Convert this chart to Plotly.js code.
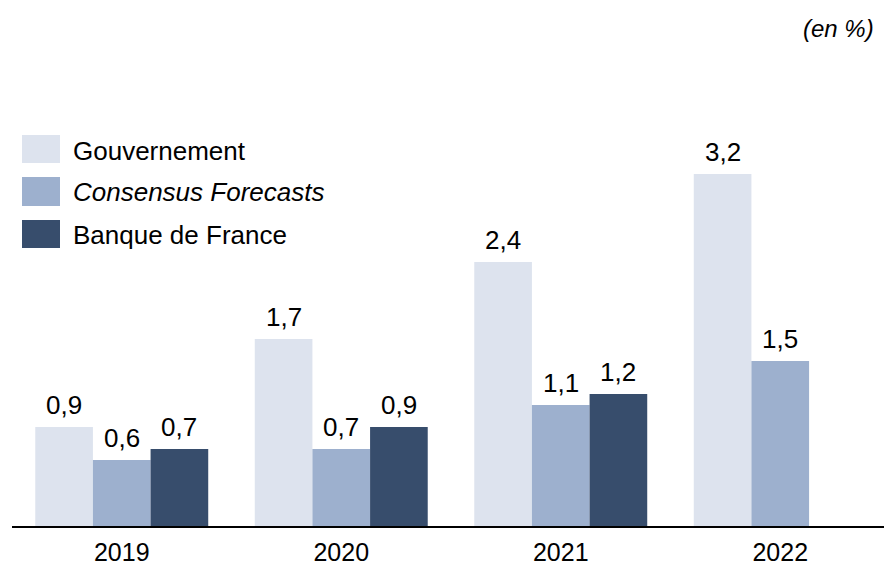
<!DOCTYPE html>
<html>
<head>
<meta charset="utf-8">
<script src="https://cdn.plot.ly/plotly-3.0.1.min.js"></script>
<style>html,body{margin:0;padding:0;background:#fff;}#chart{width:884px;height:565px;}</style>
</head>
<body>
<div id="chart"></div>
<script>
const years = ['2019', '2020', '2021', '2022'];
const seriesNames = ['Gouvernement', 'Consensus Forecasts', 'Banque de France'];
const gouvernement = [0.9, 1.7, 2.4, 3.2];
const consensus = [0.6, 0.7, 1.1, 1.5];
const banqueDeFrance = [0.7, 0.9, 1.2, null];
const colors = ['#dde3ee', '#9db0ce', '#374d6c'];
const unitNote = '(en %)';

const W = 884, H = 565;
const mL = 12, mR = 0, mT = 86, mB = 39;
const pw = W - mL - mR, ph = H - mT - mB;
const catPx = 219.5;
const bargap = 0.212;
const FONT = 'Liberation Sans, Arial, sans-serif';

const allSeries = [gouvernement, consensus, banqueDeFrance];
const traces = allSeries.map((vals, k) => ({
  type: 'bar', x: years, y: vals, name: seriesNames[k],
  marker: {color: colors[k], line: {width: 0}},
  hoverinfo: 'skip', showlegend: false
}));

const px = v => (v - mL) / pw;
const py = v => (H - mB - v) / ph;

const fmt = v => v.toFixed(1).replace('.', ',');
const barW = (1 - bargap) / 3;
const annotations = [];
allSeries.forEach((vals, k) => {
  vals.forEach((v, i) => {
    if (v === null) return;
    annotations.push({
      x: i + (k - 1) * barW, y: v, xref: 'x', yref: 'y',
      text: fmt(v), showarrow: false, xanchor: 'center', yanchor: 'bottom',
      yshift: 5, font: {family: FONT, size: 26, color: '#000'}
    });
  });
});

const legendRows = [[135, 163, 151], [177, 206, 192], [220, 248, 235]];
const shapes = [];
legendRows.forEach((r, k) => {
  shapes.push({type: 'rect', xref: 'paper', yref: 'paper',
    x0: px(22), x1: px(60), y0: py(r[1]), y1: py(r[0]),
    fillcolor: colors[k], line: {width: 0}});
  annotations.push({xref: 'paper', yref: 'paper', x: px(71), y: py(r[2]),
    xanchor: 'left', yanchor: 'middle', showarrow: false,
    text: k === 1 ? '<i>' + seriesNames[k] + '</i>' : seriesNames[k],
    font: {family: FONT, size: 26, color: '#000'}});
});
annotations.push({xref: 'paper', yref: 'paper', x: px(876), y: py(29),
  xanchor: 'right', yanchor: 'middle', showarrow: false,
  text: '<i>' + unitNote + '</i>', font: {family: FONT, size: 24, color: '#000'}});

const layout = {
  width: W, height: H,
  margin: {l: mL, r: mR, t: mT, b: mB, pad: 0},
  paper_bgcolor: '#fff', plot_bgcolor: '#fff',
  barmode: 'group', bargap: bargap, bargroupgap: 0,
  showlegend: false,
  font: {family: FONT, size: 24, color: '#000'},
  xaxis: {type: 'category', range: [-0.5, -0.5 + pw / catPx], showline: true,
    linecolor: '#000', linewidth: 2, ticks: '', showgrid: false, zeroline: false,
    ticklabelstandoff: 3,
    tickfont: {family: FONT, size: 25, color: '#000'}, fixedrange: true},
  yaxis: {range: [0, 4], visible: false, showgrid: false, zeroline: false, fixedrange: true},
  shapes: shapes,
  annotations: annotations
};

Plotly.newPlot('chart', traces, layout, {displayModeBar: false, staticPlot: true});
</script>
</body>
</html>
